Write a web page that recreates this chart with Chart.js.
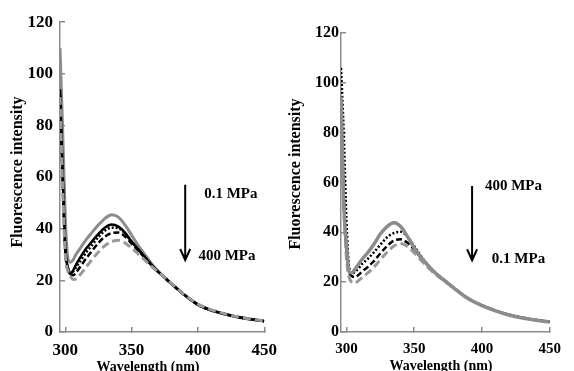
<!DOCTYPE html>
<html>
<head>
<meta charset="utf-8">
<script src="https://cdn.jsdelivr.net/npm/chart.js@4.4.1/dist/chart.umd.min.js"></script>
<style>
html, body { margin: 0; padding: 0; background: #fff; }
#wrap { position: relative; width: 574px; height: 371px; overflow: hidden; }
#left { position: absolute; left: 0; top: 0; }
#right { position: absolute; left: 280px; top: 0; }
</style>
</head>
<body>
<div id="wrap">
  <canvas id="left" width="290" height="371"></canvas>
  <canvas id="right" width="294" height="371"></canvas>
</div>
<script>
// wavelength (nm) of every sample
const wavelengths = [296, 298, 300, 302, 304, 306, 308, 312, 316, 320, 325, 330, 335, 340, 345, 350, 355, 360, 365, 370, 375, 380, 390, 400, 410, 420, 430, 440, 450];
const xTicks = [300, 350, 400, 450];
const yTicks = [0, 20, 40, 60, 80, 100, 120];

// left panel (0.1 MPa on top -> 400 MPa at the bottom)
const leftGraySolid   = [110, 78, 44, 28.5, 27, 28, 30, 33, 36, 38.5, 41.5, 44, 45.4, 44.5, 41.5, 37.5, 33.5, 30, 26.5, 23.6, 21, 18.7, 14.3, 10.6, 8.4, 7, 5.8, 4.9, 4.2];
const leftBlackSolid  = [94, 62, 33, 24.5, 22.5, 24, 26, 29.5, 32.5, 35, 38, 40.5, 41.6, 40.8, 38.5, 35, 32, 29, 26, 23.3, 21, 18.7, 14.3, 10.6, 8.4, 7, 5.8, 4.9, 4.2];
const leftDotted      = [93, 60, 32, 25, 23, 23.5, 25, 28, 31, 33.5, 36.8, 39.3, 40.4, 40.2, 38.2, 35, 32, 29, 26, 23.3, 21, 18.7, 14.3, 10.6, 8.4, 7, 5.8, 4.9, 4.2];
const leftBlackDashed = [92, 58, 31, 24.5, 22.5, 22, 23, 25.8, 28.7, 31.3, 34.5, 37, 38.3, 38.5, 37, 34.2, 31.5, 28.7, 25.9, 23.3, 21, 18.7, 14.3, 10.6, 8.4, 7, 5.8, 4.9, 4.2];
const leftGrayDashed  = [91, 56, 30, 23.5, 21.5, 20.3, 20.5, 22.7, 25.3, 28, 31, 33.5, 35, 35.5, 34.5, 32.5, 30.2, 27.8, 25.4, 23.2, 21, 18.8, 14.4, 10.8, 8.6, 7.1, 5.9, 5, 4.3];

// right panel (400 MPa on top -> 0.1 MPa at the bottom)
const rightGraySolid   = [94.5, 52, 35, 24, 23.8, 25, 26.5, 29.5, 32, 35, 39.3, 42.3, 43.8, 42.3, 38.3, 33.8, 30, 26.8, 24, 21.6, 19.5, 17.3, 13.3, 10.6, 8.5, 6.8, 5.6, 4.7, 4.0];
const rightBlackSolid  = [93, 50, 33, 24.5, 23.5, 24.5, 26.3, 29.5, 32.3, 35.3, 39.5, 42.5, 44, 42.5, 38.5, 34, 30.2, 27, 24.2, 21.7, 19.6, 17.4, 13.4, 10.7, 8.6, 6.9, 5.7, 4.8, 4.1];
const rightDotted      = [106, 80, 45, 26, 23.5, 24, 25, 27.5, 29.5, 31.8, 35, 38, 39.7, 40.2, 38.3, 34.5, 30.5, 27, 24.2, 21.8, 19.6, 17.4, 13.4, 10.7, 8.6, 6.9, 5.7, 4.8, 4.1];
const rightBlackDashed = [92, 55, 32, 24, 22.5, 22, 22.5, 24.5, 26.2, 28.3, 31.5, 34.5, 36.7, 37.2, 35.8, 33, 29.8, 26.8, 24, 21.7, 19.6, 17.4, 13.4, 10.7, 8.6, 6.9, 5.7, 4.8, 4.1];
const rightGrayDashed  = [90, 52, 30, 22, 20, 19.6, 20.2, 22, 23.8, 25.8, 29, 32, 34.5, 35.5, 34.3, 31.8, 28.8, 26, 23.5, 21.4, 19.4, 17.3, 13.4, 10.7, 8.6, 6.9, 5.7, 4.8, 4.1];

const SERIF = '"Liberation Serif", "Times New Roman", serif';
const GRAY = '#8c8c8c';

const pts = vals => vals.map((v, i) => ({ x: wavelengths[i], y: v }));

function line(data, color, width, dash) {
    return {
        data: pts(data),
        borderColor: color,
        borderWidth: width,
        borderDash: dash || [],
        pointRadius: 0,
        fill: false,
        cubicInterpolationMode: 'monotone'
    };
}

// axis titles, arrow and pressure labels
const extras = {
    id: 'extras',
    afterDraw(chart) {
        const o = chart.options.plugins.extras;
        const { ctx, chartArea } = chart;
        const x = chart.scales.x, y = chart.scales.y;
        ctx.save();
        ctx.fillStyle = '#000';
        ctx.strokeStyle = '#000';

        // y title
        ctx.font = 'bold 16px ' + SERIF;
        ctx.textAlign = 'center';
        ctx.textBaseline = 'middle';
        ctx.save();
        ctx.translate(o.yTitleX, o.yTitleY);
        ctx.rotate(-Math.PI / 2);
        ctx.fillText('Fluorescence intensity', 0, 0);
        ctx.restore();

        // x title (cut by the bottom edge, like the original)
        ctx.font = 'bold ' + o.xTitleSize + 'px ' + SERIF;
        ctx.textBaseline = 'alphabetic';
        ctx.fillText('Wavelength (nm)', o.xTitleX, chartArea.bottom + o.xTitleDrop);

        // arrow
        const ax = x.getPixelForValue(o.arrow[0]);
        const ay1 = y.getPixelForValue(o.arrow[1]);
        const ay2 = y.getPixelForValue(o.arrow[2]);
        ctx.lineWidth = 2;
        ctx.beginPath();
        ctx.moveTo(ax, ay1);
        ctx.lineTo(ax, ay2);
        ctx.moveTo(ax - 5, ay2 - 11);
        ctx.lineTo(ax, ay2);
        ctx.lineTo(ax + 5, ay2 - 11);
        ctx.stroke();

        // pressure labels
        ctx.font = 'bold 15px ' + SERIF;
        ctx.textAlign = 'left';
        ctx.textBaseline = 'middle';
        o.labels.forEach(l => {
            ctx.fillText(l[0], x.getPixelForValue(l[1]), y.getPixelForValue(l[2]));
        });
        ctx.restore();
    }
};

function axes(yWidth, yPad, xFont, yFont) {
    const grid = { drawOnChartArea: false, tickLength: -5, color: GRAY, lineWidth: 1.5 };
    const border = { color: GRAY, width: 1.5 };
    return {
        x: {
            type: 'linear', min: 296, max: 450,
            afterBuildTicks: s => { s.ticks = xTicks.map(v => ({ value: v })); },
            afterFit: s => { s.height = 39; },
            grid: grid, border: border,
            ticks: { color: '#000', padding: 13, maxRotation: 0, font: { family: SERIF, size: xFont, weight: 'bold' } }
        },
        y: {
            min: 0, max: 120,
            afterBuildTicks: s => { s.ticks = yTicks.map(v => ({ value: v })); },
            afterFit: s => { s.width = yWidth; },
            grid: grid, border: border,
            ticks: { color: '#000', padding: yPad, font: { family: SERIF, size: yFont, weight: 'bold' } }
        }
    };
}

function makeChart(id, datasets, padding, scales, extrasOpts) {
    return new Chart(document.getElementById(id), {
        type: 'line',
        data: { datasets: datasets },
        options: {
            responsive: false,
            animation: false,
            devicePixelRatio: 1,
            layout: { padding: padding },
            scales: scales,
            plugins: { legend: { display: false }, tooltip: { enabled: false }, extras: extrasOpts }
        },
        plugins: [extras]
    });
}

// first dataset is drawn on top
makeChart('left', [
    line(leftGrayDashed, '#999999', 3, [8, 4]),
    line(leftBlackDashed, '#000', 2.5, [6, 3]),
    line(leftDotted, '#000', 2.5, [2, 2]),
    line(leftBlackSolid, '#000', 2.5),
    line(leftGraySolid, GRAY, 3)
], { left: 0, top: 17, right: 15, bottom: 0 }, axes(60, 12, 17, 17), {
    yTitleX: 18, yTitleY: 172, xTitleX: 148, xTitleDrop: 39, xTitleSize: 14,
    arrow: [390.4, 57, 27.9],
    labels: [['0.1 MPa', 404.7, 53.4], ['400 MPa', 400.4, 29.4]]
});

makeChart('right', [
    line(rightGraySolid, GRAY, 3.5),
    line(rightBlackSolid, '#000', 1.5),
    line(rightGrayDashed, '#999999', 3, [8, 4]),
    line(rightBlackDashed, '#000', 2.5, [6, 3]),
    line(rightDotted, '#000', 2.5, [2, 2])
], { left: 0, top: 33, right: 17, bottom: 0 }, axes(61, 7, 15, 16), {
    yTitleX: 16, yTitleY: 174, xTitleX: 161, xTitleDrop: 37.5, xTitleSize: 14,
    arrow: [392.7, 58.6, 28.8],
    labels: [['400 MPa', 402.2, 58.6], ['0.1 MPa', 407.3, 29.2]]
});
</script>
</body>
</html>
